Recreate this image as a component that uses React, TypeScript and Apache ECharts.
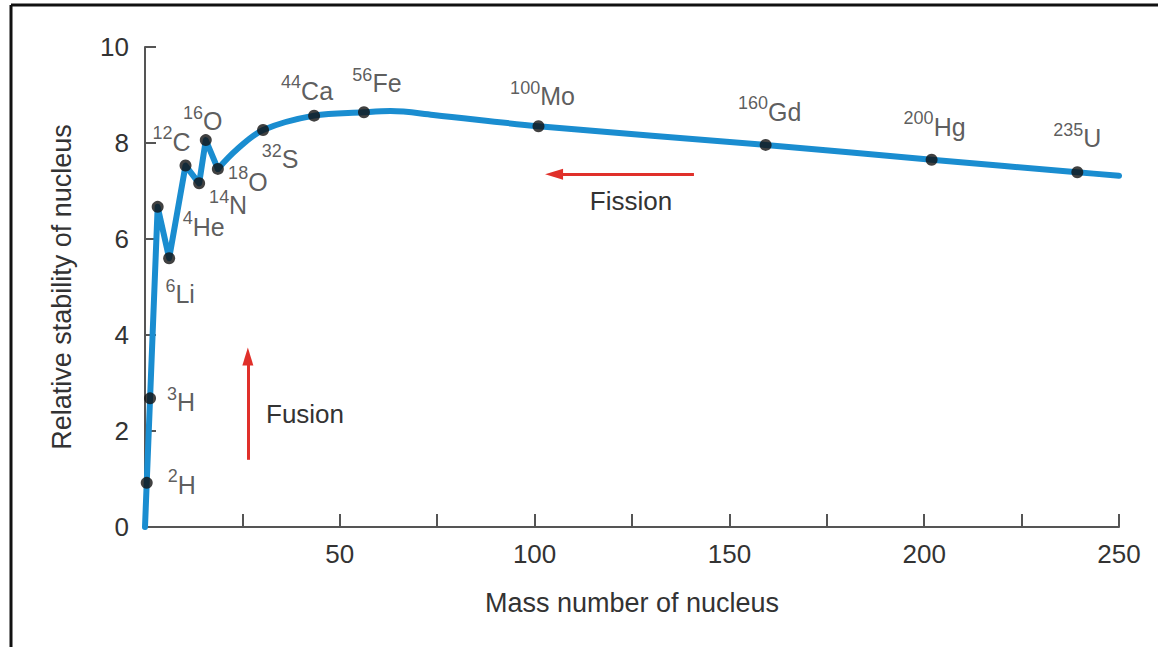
import React, { useEffect, useRef } from "react";
import * as echarts from "echarts";

// Isotopes marked on the curve
const massLabels = ["2", "3", "4", "6", "12", "14", "16", "18", "32", "44", "56", "100", "160", "200", "235"];
const elementSymbols = ["H", "H", "He", "Li", "C", "N", "O", "O", "S", "Ca", "Fe", "Mo", "Gd", "Hg", "U"];
const massPositions = [0.44, 1.3, 3.25, 6.2, 10.4, 13.9, 15.6, 18.7, 30.3, 43.4, 56.2, 101, 159.3, 201.9, 239.3];
const stability = [0.92, 2.68, 6.67, 5.6, 7.53, 7.16, 8.06, 7.46, 8.27, 8.57, 8.64, 8.35, 7.96, 7.65, 7.39];

// Unmarked points of the curve
const curveStart = [0, 0];
const risePointX = [23.5];
const risePointY = [7.86];
const peakPointX = [63, 74];
const peakPointY = [8.665, 8.585];
const curveEnd = [250, 7.32];

// Arrows (data coordinates)
const fusionArrow = { x: 26.4, from: 1.4, to: 3.55 };
const fissionArrow = { y: 7.35, from: 140.9, to: 105.0 };

// Axis ticks
const xTicks = { min: 0, max: 250, step: 25 };
const yTicks = { min: 0, max: 10, step: 2 };

// Label placement (px offsets from the dot, layout only)
const labelOffsets: number[][] = [
  [35, 2], [31, 4], [46, 20], [11, 36], [-14, -24], [29, 22], [-3, -19], [30, 13],
  [17, 29], [-7, -25], [13, -29], [4, -30], [4, -33], [3, -33], [0, -34],
];

const TEXT = "#333333";
const FONT = "'Liberation Sans', Arial, Helvetica, sans-serif";
const BLUE = "#1a8dd0";
const RED = "#e0302a";

export default function App() {
  const ref = useRef<HTMLDivElement>(null);
  useEffect(() => {
    if (!ref.current) return;
    const chart = echarts.init(ref.current, undefined, { renderer: "svg" });

    const jagged: number[][] = [curveStart];
    for (let i = 0; i <= 7; i++) jagged.push([massPositions[i], stability[i]]);

    const smoothPts: number[][] = [[massPositions[7], stability[7]]];
    risePointX.forEach((x, i) => smoothPts.push([x, risePointY[i]]));
    for (let i = 8; i <= 10; i++) smoothPts.push([massPositions[i], stability[i]]);
    peakPointX.forEach((x, i) => smoothPts.push([x, peakPointY[i]]));
    for (let i = 11; i < massPositions.length; i++) smoothPts.push([massPositions[i], stability[i]]);
    smoothPts.push(curveEnd);
    smoothPts.sort((a, b) => a[0] - b[0]);

    const lineStyle = { color: BLUE, width: 6, cap: "round", join: "round" } as any;

    chart.setOption({
      animation: false,
      textStyle: { fontFamily: FONT },
      grid: { left: 145, right: 39, top: 47, bottom: 120 },
      xAxis: {
        type: "value",
        min: xTicks.min,
        max: xTicks.max,
        interval: xTicks.step,
        name: "Mass number of nucleus",
        nameLocation: "middle",
        nameGap: 62,
        nameTextStyle: { color: TEXT, fontSize: 27, fontFamily: FONT },
        axisLine: { show: true, lineStyle: { color: "#555", width: 2 } },
        axisTick: { show: true, inside: true, length: 13, lineStyle: { color: "#555", width: 2 } },
        axisLabel: {
          color: TEXT,
          fontSize: 26,
          fontFamily: FONT,
          margin: 14,
          formatter: (v: number) => (v > 0 && v % 50 === 0 ? String(v) : ""),
        },
        splitLine: { show: false },
      },
      yAxis: {
        type: "value",
        min: yTicks.min,
        max: yTicks.max,
        interval: yTicks.step,
        name: "Relative stability of nucleus",
        nameLocation: "middle",
        nameRotate: 90,
        nameGap: 70,
        nameTextStyle: { color: TEXT, fontSize: 27, fontFamily: FONT },
        axisLine: { show: true, lineStyle: { color: "#555", width: 2 } },
        axisTick: { show: true, inside: true, length: 11, lineStyle: { color: "#555", width: 2 } },
        axisLabel: { color: TEXT, fontSize: 26, fontFamily: FONT, margin: 16 },
        splitLine: { show: false },
      },
      series: [
        {
          type: "line",
          data: jagged,
          showSymbol: false,
          smooth: false,
          lineStyle,
          z: 2,
        },
        {
          type: "line",
          data: smoothPts,
          showSymbol: false,
          smooth: 0.35,
          lineStyle,
          z: 2,
        },
        {
          type: "scatter",
          symbolSize: 12,
          itemStyle: { color: "#111" },
          z: 3,
          data: massPositions.map((x, i) => ({
            value: [x, stability[i]],
            label: { offset: labelOffsets[i] },
          })),
          label: {
            show: true,
            position: "inside",
            align: "center",
            verticalAlign: "middle",
            formatter: (p: any) => `{sup|${massLabels[p.dataIndex]}}{el|${elementSymbols[p.dataIndex]}}`,
            rich: {
              sup: { fontSize: 18, lineHeight: 18, verticalAlign: "top", color: TEXT, fontFamily: FONT },
              el: { fontSize: 25, lineHeight: 35, color: TEXT, fontFamily: FONT },
            },
          },
          markLine: {
            silent: true,
            symbol: ["none", "triangle"],
            symbolSize: [11, 18],
            label: { show: false },
            lineStyle: { color: RED, width: 3, type: "solid" },
            data: [
              [{ coord: [fusionArrow.x, fusionArrow.from] }, { coord: [fusionArrow.x, fusionArrow.to] }],
              [{ coord: [fissionArrow.from, fissionArrow.y] }, { coord: [fissionArrow.to, fissionArrow.y] }],
            ],
          },
        },
      ],
      graphic: [
        { type: "line", shape: { x1: 11, y1: 5, x2: 11, y2: 660 }, style: { stroke: "#111", lineWidth: 3 } },
        { type: "line", shape: { x1: 11, y1: 5, x2: 1170, y2: 5 }, style: { stroke: "#111", lineWidth: 3 } },
        {
          type: "text",
          x: 266,
          y: 414,
          style: { text: "Fusion", fill: TEXT, fontSize: 26, fontFamily: FONT, textAlign: "left", textVerticalAlign: "middle" },
        },
        {
          type: "text",
          x: 631,
          y: 201,
          style: { text: "Fission", fill: TEXT, fontSize: 26, fontFamily: FONT, textAlign: "center", textVerticalAlign: "middle" },
        },
      ],
    });
    return () => chart.dispose();
  }, []);
  return <div ref={ref} style={{ position: "absolute", left: 0, top: 0, width: 1158, height: 647, background: "#fff" }} />;
}
